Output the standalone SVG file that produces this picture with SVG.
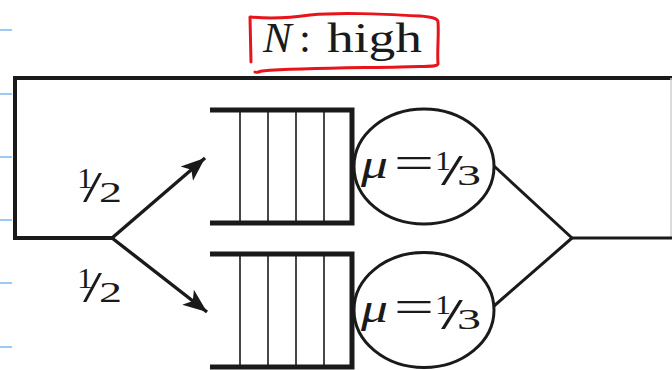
<svg xmlns="http://www.w3.org/2000/svg" width="672" height="370" viewBox="0 0 672 370">
<style>
.ln{fill:none;stroke:#1a1a1a;stroke-linecap:butt;stroke-linejoin:miter}
.thin{fill:none;stroke:#1a1a1a;stroke-width:1.6}
.tx{font-family:"Liberation Serif","Times New Roman",serif;fill:#1a1a1a}
.it{font-style:italic}
.tick{stroke:#9ccaf7;stroke-width:2}
.fn{font-size:29px}
.sl{font-size:44px}
</style>
<defs>
<marker id="ah" markerUnits="userSpaceOnUse" markerWidth="26" markerHeight="22" viewBox="0 0 26 22" refX="24" refY="11" orient="auto">
<path d="M0,1.5 L24,11 L0,20.5 L6,11 z" fill="#1a1a1a"/>
</marker>
</defs>
<rect width="672" height="370" fill="#ffffff"/>
<g id="ticks">
<line class="tick" x1="0" y1="30" x2="12" y2="30"/>
<line class="tick" x1="0" y1="94" x2="12" y2="94"/>
<line class="tick" x1="0" y1="157" x2="12" y2="157"/>
<line class="tick" x1="0" y1="220" x2="12" y2="220"/>
<line class="tick" x1="0" y1="283" x2="12" y2="283"/>
<line class="tick" x1="0" y1="347" x2="12" y2="347"/>
</g>
<g id="title">
<text class="tx" y="52" font-size="43"><tspan class="it" x="263">N</tspan><tspan x="299">:</tspan><tspan x="327" textLength="95" lengthAdjust="spacingAndGlyphs">high</tspan></text>
<path d="M251 62 L250 17 C270 19 290 18 310 15 C340 12 380 14 420 16 C432 17 438 18 438 22 C439 35 437 50 438 64 C437 67 430 66 400 67 C350 68 300 68 262 71 C258 72 256 73 255 72" fill="none" stroke="#e8141b" stroke-width="3" stroke-linecap="round" stroke-linejoin="round"/>
</g>
<g id="connectors">
<path class="ln" d="M672 78 H15 V238 H112" stroke-width="4"/>
<line x1="671" y1="78" x2="671" y2="238" stroke="#cfcfcf" stroke-width="1.5"/>
<line class="ln" x1="112" y1="238" x2="205" y2="158" stroke-width="3.4" marker-end="url(#ah)"/>
<line class="ln" x1="112" y1="238" x2="207" y2="312" stroke-width="3.4" marker-end="url(#ah)"/>
<line class="ln" x1="494" y1="166" x2="572" y2="238" stroke-width="3"/>
<line class="ln" x1="494" y1="306" x2="572" y2="238" stroke-width="3"/>
<line class="ln" x1="572" y1="238" x2="672" y2="238" stroke-width="3"/>
</g>
<g id="label-upper-prob">
<text class="tx"><tspan class="fn" x="77" y="188" textLength="16" lengthAdjust="spacingAndGlyphs">1</tspan><tspan class="sl" x="83" y="202" textLength="19" lengthAdjust="spacingAndGlyphs">/</tspan><tspan class="fn" x="99" y="202" textLength="23" lengthAdjust="spacingAndGlyphs">2</tspan></text>
</g>
<g id="label-lower-prob">
<text class="tx"><tspan class="fn" x="77" y="288" textLength="16" lengthAdjust="spacingAndGlyphs">1</tspan><tspan class="sl" x="83" y="302" textLength="19" lengthAdjust="spacingAndGlyphs">/</tspan><tspan class="fn" x="99" y="302" textLength="23" lengthAdjust="spacingAndGlyphs">2</tspan></text>
</g>
<g id="queue-upper">
<path class="ln" d="M210 110 H352 V223 H210" stroke-width="5"/>
<line class="thin" x1="240" y1="110" x2="240" y2="223"/>
<line class="thin" x1="268" y1="110" x2="268" y2="223"/>
<line class="thin" x1="296" y1="110" x2="296" y2="223"/>
<line class="thin" x1="324" y1="110" x2="324" y2="223"/>
</g>
<g id="queue-lower">
<path class="ln" d="M210 254 H352 V367 H210" stroke-width="5"/>
<line class="thin" x1="240" y1="254" x2="240" y2="367"/>
<line class="thin" x1="268" y1="254" x2="268" y2="367"/>
<line class="thin" x1="296" y1="254" x2="296" y2="367"/>
<line class="thin" x1="324" y1="254" x2="324" y2="367"/>
</g>
<g id="server-upper">
<ellipse cx="424" cy="166.5" rx="70" ry="57.5" fill="#ffffff" stroke="#1a1a1a" stroke-width="3"/>
<text class="tx"><tspan class="it" x="361" y="178" font-size="40" textLength="27" lengthAdjust="spacingAndGlyphs">μ</tspan><tspan x="394" y="178" font-size="46" textLength="40" lengthAdjust="spacingAndGlyphs">=</tspan><tspan x="435" y="170" font-size="28" textLength="16" lengthAdjust="spacingAndGlyphs">1</tspan><tspan class="sl" x="441" y="185" textLength="22" lengthAdjust="spacingAndGlyphs">/</tspan><tspan class="fn" x="457" y="185" textLength="24" lengthAdjust="spacingAndGlyphs">3</tspan></text>
</g>
<g id="server-lower">
<ellipse cx="424" cy="310" rx="70" ry="57.5" fill="#ffffff" stroke="#1a1a1a" stroke-width="3"/>
<text class="tx"><tspan class="it" x="361" y="322" font-size="40" textLength="27" lengthAdjust="spacingAndGlyphs">μ</tspan><tspan x="394" y="322" font-size="46" textLength="40" lengthAdjust="spacingAndGlyphs">=</tspan><tspan x="435" y="314" font-size="28" textLength="16" lengthAdjust="spacingAndGlyphs">1</tspan><tspan class="sl" x="441" y="329" textLength="22" lengthAdjust="spacingAndGlyphs">/</tspan><tspan class="fn" x="457" y="329" textLength="24" lengthAdjust="spacingAndGlyphs">3</tspan></text>
</g>
</svg>
